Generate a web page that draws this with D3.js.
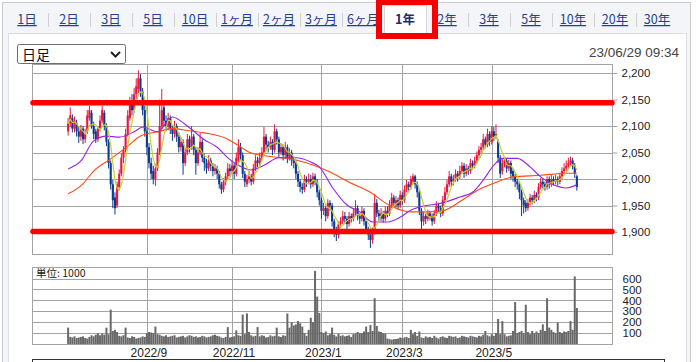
<!DOCTYPE html>
<html>
<head>
<meta charset="utf-8">
<script src="https://cdn.jsdelivr.net/npm/d3@7"></script>
<style>
  body { margin: 0; background: #fff; }
  svg { display: block; }
</style>
</head>
<body>
<script>
// ---- data ----
var tabLabels = ["1日","2日","3日","5日","10日","1ヶ月","2ヶ月","3ヶ月","6ヶ月","1年","2年","3年","5年","10年","20年","30年"];
var activeTab = "1年";
var stamp = "23/06/29 09:34";
var periodLabel = "日足";
var volUnit = "単位: 1000";

var monthLabels = ["2022/9", "2022/11", "2023/1", "2023/3", "2023/5"];
var monthIdx = [37, 77, 119, 157, 199];          // trading-day index of each month start
var priceTicks = [1900, 1950, 2000, 2050, 2100, 2150, 2200];
var volTicks = [100, 200, 300, 400, 500, 600];
var supportLines = [2144, 1901];

var opens = [
2090,2105,2115,2095,2105,2090,2080,2095,2075,2090, 2115,2125,2100,2090,2075,2095,2110,2125,2100,2070,
2030,1990,1965,1950,1985,2010,2040,2055,2085,2115, 2145,2130,2160,2170,2190,2165,2130,2090,2060,2030,
2015,2000,2020,2050,2100,2135,2110,2100,2115,2095, 2085,2100,2080,2060,2070,2030,2050,2075,2060,2080,
2055,2030,2050,2070,2040,2030,2020,2035,2025,2015, 2020,2010,1990,1980,1995,2005,2020,2015,2025,2010,
2035,2060,2045,2010,1990,2000,2005,1995,2020,2035, 2030,2040,2050,2080,2065,2060,2070,2055,2090,2075,
2050,2060,2045,2060,2040,2050,2035,2030,2010,1995, 1985,1980,2000,1995,2000,1990,2005,1995,1975,1960,
1940,1945,1930,1955,1950,1920,1905,1895,1915,1920, 1930,1925,1915,1930,1925,1935,1945,1930,1925,1940,
1920,1905,1895,1885,1900,1955,1935,1925,1935,1925, 1940,1935,1950,1965,1950,1960,1950,1970,1960,1980,
1990,1985,1995,2005,1990,1975,1940,1920,1930,1925, 1935,1930,1920,1935,1950,1945,1935,1960,1975,1990,
2005,1995,2000,2010,2005,2015,2025,2010,2020,2015, 2030,2025,2035,2045,2055,2060,2075,2065,2085,2070,
2090,2080,2070,2040,2015,2030,2035,2020,2030,2015, 2005,1995,1990,1975,1960,1955,1945,1955,1965,1960,
1970,1965,1985,1995,1990,1985,2000,1990,2000,1995, 2000,1995,2005,2015,2020,2025,2030,2035,2025,2005
];
var highs = [
2115,2135,2122,2118,2112,2098,2102,2100,2095,2130, 2138,2130,2108,2095,2100,2120,2138,2130,2105,2075,
2035,1998,1975,1995,2018,2048,2062,2095,2130,2155, 2160,2172,2190,2205,2198,2172,2138,2095,2068,2040,
2025,2028,2058,2150,2170,2140,2120,2125,2120,2102, 2110,2105,2088,2078,2075,2058,2085,2082,2100,2085,
2060,2060,2088,2075,2048,2038,2045,2040,2030,2028, 2025,2015,1995,2002,2012,2030,2028,2035,2030,2050,
2075,2068,2050,2015,2008,2015,2010,2028,2045,2042, 2050,2060,2098,2085,2072,2080,2075,2103,2095,2080,
2068,2065,2070,2065,2058,2055,2042,2035,2015,2000, 1992,2008,2005,2010,2008,2012,2010,2000,1980,1965,
1955,1950,1962,1960,1955,1925,1910,1920,1928,1940, 1938,1930,1938,1935,1945,1960,1950,1935,1948,1945,
1925,1910,1900,1908,1972,1962,1942,1945,1940,1948, 1948,1960,1974,1970,1968,1965,1978,1975,1988,1998,
1995,2006,2010,2008,1995,1978,1945,1938,1935,1942, 1940,1935,1942,1958,1955,1950,1968,1985,1998,2015,
2010,2008,2018,2015,2025,2032,2030,2028,2025,2038, 2035,2042,2052,2062,2068,2085,2080,2095,2090,2100,
2098,2103,2075,2045,2038,2042,2040,2036,2035,2020, 2010,2000,1995,1980,1965,1960,1962,1972,1970,1978,
1975,1992,2002,2000,1995,2005,2005,2008,2005,2008, 2005,2012,2022,2030,2035,2040,2042,2040,2030,2008
];
var lows = [
2082,2098,2088,2088,2080,2068,2072,2066,2068,2085, 2110,2095,2075,2068,2070,2090,2105,2092,2062,2020,
1980,1945,1933,1945,1978,2005,2030,2050,2080,2110, 2120,2125,2150,2162,2155,2120,2080,2045,2020,2000,
1990,1987,2015,2045,2095,2100,2090,2092,2085,2072, 2078,2070,2050,2052,2008,2025,2045,2050,2055,2045,
2008,2025,2045,2032,2015,2010,2015,2015,2005,2008, 2000,1982,1972,1975,1988,2000,2005,2010,2000,2005,
2030,2035,2002,1985,1985,1992,1988,1990,2015,2022, 2025,2035,2045,2055,2050,2055,2045,2050,2065,2040,
2045,2035,2040,2030,2035,2025,2020,2000,1985,1975, 1972,1975,1985,1990,1982,1985,1988,1965,1950,1925,
1932,1920,1925,1940,1910,1890,1883,1888,1908,1915, 1915,1905,1910,1918,1920,1930,1922,1915,1920,1912,
1898,1885,1870,1878,1895,1928,1920,1920,1918,1920, 1928,1930,1945,1948,1945,1942,1945,1952,1955,1975,
1975,1980,1990,1982,1965,1932,1905,1912,1915,1920, 1922,1912,1915,1930,1938,1928,1930,1955,1970,1985,
1985,1988,1995,1995,2000,2010,2002,2005,2008,2010, 2018,2020,2030,2040,2048,2055,2058,2060,2062,2065,
2072,2075,2030,2002,2008,2022,2012,2015,2000,1995, 1985,1980,1962,1930,1935,1938,1940,1950,1952,1955,
1958,1960,1980,1982,1978,1980,1982,1985,1988,1990, 1988,1990,2000,2010,2015,2020,2025,2018,2002,1978
];
var closes = [
2105,2120,2095,2110,2090,2080,2095,2075,2085,2120, 2130,2100,2085,2075,2095,2110,2130,2100,2070,2030,
1990,1960,1945,1990,2010,2040,2055,2085,2120,2140, 2130,2160,2175,2190,2165,2130,2090,2060,2030,2010,
2000,2020,2050,2100,2130,2110,2100,2115,2095,2085, 2100,2080,2060,2070,2030,2050,2075,2060,2080,2055,
2030,2050,2070,2040,2030,2020,2035,2025,2015,2020, 2010,1990,1980,1995,2005,2020,2015,2025,2010,2040,
2060,2045,2010,1995,2000,2005,1995,2020,2035,2030, 2040,2050,2080,2065,2060,2070,2055,2090,2075,2050,
2060,2045,2060,2040,2050,2035,2030,2010,1995,1985, 1980,2000,1995,2000,1990,2005,1995,1975,1960,1940,
1945,1930,1955,1950,1920,1900,1895,1915,1920,1930, 1925,1915,1930,1925,1935,1945,1930,1925,1940,1920,
1905,1895,1885,1900,1955,1935,1930,1935,1925,1940, 1935,1950,1965,1955,1960,1950,1970,1960,1980,1990,
1985,2000,2005,1990,1975,1940,1920,1930,1925,1935, 1930,1920,1935,1950,1945,1935,1960,1975,1990,2005,
1995,2000,2010,2005,2015,2025,2010,2020,2015,2030, 2025,2035,2045,2055,2060,2075,2065,2085,2070,2090,
2080,2085,2040,2010,2030,2035,2020,2030,2010,2005, 1995,1990,1975,1960,1950,1945,1955,1965,1960,1970,
1965,1985,1995,1990,1985,2000,1990,2000,1995,2000, 1995,2005,2015,2020,2025,2030,2035,2025,2010,1985
];
var volumes = [
150, 65,60,70,55,60,65,70,55,50,65,80,70, 85,100,80,95,85, 150, 90, 315, 120,130,110, 75,70,80, 150,
60,55,70,65,50,55,60,70,65, 100,110,105,100, 160,
90,85,75,70,80,65,70,75,80,60,65,70,75,60,70,80,75,65,70,60,65,75,70,60,65,70,80,85,75,70,60,55,65,
155, 60,65,70, 125, 80,75, 270, 90, 280, 110, 80,70,75, 155, 70,80,75,60,65,80,70,75, 150, 70,65,80,
75, 280, 150, 200,170,180,210,190,160, 100, 75, 130, 240, 200, 670, 435, 285, 110,100,115,
80,90,150,85,70,95,75,80,70, 75,80,65,90,95,110,100, 100,115,160,110,175,120,420,165,115,110,100,95,
50,45,40,45, 45,50,60,55,60,65,55, 130, 90, 110, 75, 115, 60,55,70,60,65,55,75,60,50,65,
70,60,55,75,70,65,70,55,60,75,70,65,60,75, 70,65,60,75,70,85,
120,80,70,90,75,100,230,90,210,90,70,75, 80,120, 385, 100,110,120,100, 360,
110,90,120,100,115,100,130, 180, 120, 420, 150,130,110,100, 195, 110,100,115,110,120, 210, 130, 620, 330
];

// 25-day (purple) and 75-day (orange) averages, read at sample days
var ma25Idx = [0,6,12,18,24,31,35,42,49,56,64,70,75,80,86,92,99,107,114,118,124,131,137,143,150,156,161,165,176,184,190,195,200,204,211,217,222,228,234,239];
var ma25Val = [2019,2034,2072,2081,2079,2089,2098,2089,2117,2100,2074,2060,2040,2026,2017,2026,2040,2040,2032,2023,1985,1951,1938,1919,1919,1928,1941,1947,1955,1966,1975,1998,2026,2039,2039,2023,2004,1989,1983,1989];
var ma75Idx = [0,7,12,20,28,34,42,49,57,64,74,82,86,96,107,116,123,132,142,149,154,161,170,176,185,193,200,209,222,234,239];
var ma75Val = [1972,1991,2015,2038,2062,2081,2089,2095,2091,2087,2077,2058,2049,2042,2036,2025,2013,1994,1975,1955,1945,1938,1938,1940,1960,1980,1992,2004,2007,2011,2011];

// ---- setup ----
var W = 696, H = 362;
var upCol = "#e8163f", downCol = "#0c3a8e";
var gridCol = "#a3a3a3";
var numFont = "'Liberation Sans', Arial, sans-serif";
var jpFont = "'Noto Sans CJK JP', 'Noto Sans', sans-serif";

var svg = d3.select("body").append("svg").attr("width", W).attr("height", H);

var candles = closes.map(function(c, i) {
  return {i: i, o: opens[i], h: highs[i], l: lows[i], c: c, v: volumes[i]};
});
if (candles.some(function(d){ return d.o == null || d.h == null || d.l == null || d.v == null; }))
  console.warn("array length mismatch");

var x = d3.scaleLinear().domain([-16.5, 255.5]).range([33, 612]);
var y = d3.scaleLinear().domain([1858.5, 2217]).range([254, 64]);
var yv = d3.scaleLinear().domain([0, 706]).range([344, 267]);

// ---- frame and tabs ----
svg.append("rect").attr("x", 2.5).attr("y", 2.5).attr("width", 688).attr("height", 380)
  .attr("fill", "#f4f5f8").attr("stroke", "#c8cbd2");
svg.append("rect").attr("x", 8.5).attr("y", 33.5).attr("width", 678).attr("height", 360)
  .attr("fill", "#fff").attr("stroke", "#dadde4");

var tabX = d3.scalePoint().domain(tabLabels).range([27, 657]);
var step = tabX.step();

// separators
svg.append("g").selectAll("line")
  .data(tabLabels.slice(0, -1))
  .enter().append("line")
  .attr("x1", function(d){ return Math.round(tabX(d) + step / 2) + 0.5; })
  .attr("x2", function(d){ return Math.round(tabX(d) + step / 2) + 0.5; })
  .attr("y1", 13).attr("y2", 27)
  .attr("stroke", "#d0d0d0");

// selected tab
var ax = tabX(activeTab);
svg.append("rect").attr("x", Math.round(ax - step / 2) + 0.5).attr("y", 5.5)
  .attr("width", step).attr("height", 31).attr("fill", "#fff").attr("stroke", "#d6d6d6");

svg.append("g").selectAll("text")
  .data(tabLabels)
  .enter().append("text")
  .attr("x", function(d){ return tabX(d); })
  .attr("y", 24)
  .attr("text-anchor", "middle")
  .style("font-family", jpFont)
  .style("font-size", "12.5px")
  .style("font-weight", function(d){ return d === activeTab ? "bold" : "normal"; })
  .style("text-decoration", function(d){ return d === activeTab ? "none" : "underline"; })
  .attr("fill", function(d){ return d === activeTab ? "#1d2c6b" : "#243f95"; })
  .text(function(d){ return d; });

// red highlight around the active tab
svg.append("rect").attr("x", ax - 26).attr("y", 2).attr("width", 56).attr("height", 34)
  .attr("fill", "none").attr("stroke", "#f40000").attr("stroke-width", 6);

// period select box
svg.append("rect").attr("x", 17.5).attr("y", 44.5).attr("width", 108).attr("height", 19).attr("rx", 2)
  .attr("fill", "#fff").attr("stroke", "#6f6f6f");
svg.append("text").attr("x", 22).attr("y", 59.5).text(periodLabel)
  .style("font-family", jpFont).style("font-size", "14px").attr("fill", "#111");
svg.append("path").attr("d", "M111,52 L115.5,56.5 L120,52")
  .attr("fill", "none").attr("stroke", "#222").attr("stroke-width", 2);

svg.append("text").attr("x", 679).attr("y", 57).attr("text-anchor", "end").text(stamp)
  .style("font-family", numFont).style("font-size", "13.5px").attr("fill", "#444");

// ---- price panel ----
var main = svg.append("g");

main.append("g").selectAll("line").data(priceTicks).enter().append("line")
  .attr("x1", 33).attr("x2", 612)
  .attr("y1", function(d){ return Math.round(y(d)) + 0.5; })
  .attr("y2", function(d){ return Math.round(y(d)) + 0.5; })
  .attr("stroke", gridCol);

main.append("g").selectAll("line").data(monthIdx).enter().append("line")
  .attr("x1", function(d){ return Math.round(x(d)) + 0.5; })
  .attr("x2", function(d){ return Math.round(x(d)) + 0.5; })
  .attr("y1", 64).attr("y2", 254)
  .attr("stroke", gridCol);

main.append("rect").attr("x", 32.5).attr("y", 64.5).attr("width", 580).attr("height", 190)
  .attr("fill", "none").attr("stroke", gridCol);

var yAxis = d3.axisRight(y).tickValues(priceTicks).tickSize(5).tickPadding(4).tickFormat(d3.format(","));
var ya = main.append("g").attr("transform", "translate(612.5,0)").call(yAxis);
ya.select(".domain").remove();
ya.selectAll("line").attr("stroke", gridCol);
ya.selectAll("text").style("font-family", numFont).style("font-size", "11.5px").attr("fill", "#222");

var cg = main.append("g");
cg.selectAll("line").data(candles).enter().append("line")
  .attr("x1", function(d){ return x(d.i); })
  .attr("x2", function(d){ return x(d.i); })
  .attr("y1", function(d){ return y(d.h); })
  .attr("y2", function(d){ return y(d.l); })
  .attr("stroke", function(d){ return d.c >= d.o ? upCol : downCol; })
  .attr("stroke-width", 1);
cg.selectAll("rect").data(candles).enter().append("rect")
  .attr("x", function(d){ return x(d.i) - 1.05; })
  .attr("width", 2.1)
  .attr("y", function(d){ return y(Math.max(d.o, d.c)); })
  .attr("height", function(d){ return Math.max(1, Math.abs(y(d.o) - y(d.c))); })
  .attr("fill", function(d){ return d.c >= d.o ? upCol : downCol; });

// moving averages
var ma5 = closes.map(function(c, i) {
  return {i: i, v: d3.mean(closes.slice(Math.max(0, i - 4), i + 1))};
});
var line = d3.line().x(function(d){ return x(d.i); }).y(function(d){ return y(d.v); });
var smooth = d3.line().curve(d3.curveMonotoneX).x(function(d){ return x(d.i); }).y(function(d){ return y(d.v); });

main.append("path").datum(ma75Idx.map(function(d, k){ return {i: d, v: ma75Val[k]}; }))
  .attr("d", smooth).attr("fill", "none").attr("stroke", "#ff4a14").attr("stroke-width", 1.1);
main.append("path").datum(ma25Idx.map(function(d, k){ return {i: d, v: ma25Val[k]}; }))
  .attr("d", smooth).attr("fill", "none").attr("stroke", "#9a22e6").attr("stroke-width", 1.1);
main.append("path").datum(ma5)
  .attr("d", line).attr("fill", "none").attr("stroke", "#c4d032").attr("stroke-width", 1.2);

// drawn support / resistance lines
main.append("g").selectAll("line").data(supportLines).enter().append("line")
  .attr("x1", 33).attr("x2", 612)
  .attr("y1", function(d){ return y(d); })
  .attr("y2", function(d){ return y(d); })
  .attr("stroke", "#ff0000").attr("stroke-width", 5.5).attr("stroke-linecap", "round");

// ---- volume panel ----
var vol = svg.append("g");

vol.append("g").selectAll("line").data(volTicks).enter().append("line")
  .attr("x1", 33).attr("x2", 612)
  .attr("y1", function(d){ return Math.round(yv(d)) + 0.5; })
  .attr("y2", function(d){ return Math.round(yv(d)) + 0.5; })
  .attr("stroke", gridCol);

vol.append("g").selectAll("line").data(monthIdx).enter().append("line")
  .attr("x1", function(d){ return Math.round(x(d)) + 0.5; })
  .attr("x2", function(d){ return Math.round(x(d)) + 0.5; })
  .attr("y1", 267).attr("y2", 344)
  .attr("stroke", gridCol);

vol.append("rect").attr("x", 32.5).attr("y", 267.5).attr("width", 580).attr("height", 77)
  .attr("fill", "none").attr("stroke", gridCol);

vol.append("g").selectAll("rect").data(candles).enter().append("rect")
  .attr("x", function(d){ return x(d.i) - 1; })
  .attr("width", 2)
  .attr("y", function(d){ return yv(d.v); })
  .attr("height", function(d){ return yv(0) - yv(d.v); })
  .attr("fill", "#686868");

var vAxis = d3.axisRight(yv).tickValues(volTicks).tickSize(0).tickPadding(10);
var va = vol.append("g").attr("transform", "translate(612.5,0)").call(vAxis);
va.select(".domain").remove();
va.selectAll("text").style("font-family", numFont).style("font-size", "11.5px").attr("fill", "#222");

vol.append("text").attr("x", 36).attr("y", 277).text(volUnit)
  .style("font-family", jpFont).style("font-size", "10.5px").attr("fill", "#222");

vol.append("g").selectAll("text").data(monthIdx).enter().append("text")
  .attr("x", function(d){ return x(d) + 2; })
  .attr("y", 356.5)
  .attr("text-anchor", "middle")
  .style("font-family", numFont).style("font-size", "12px").attr("fill", "#222")
  .text(function(d, k){ return monthLabels[k]; });

// box of the panel below (cut off)
svg.append("rect").attr("x", 32.5).attr("y", 359.5).attr("width", 632).attr("height", 20)
  .attr("fill", "none").attr("stroke", "#333");
</script>
</body>
</html>
